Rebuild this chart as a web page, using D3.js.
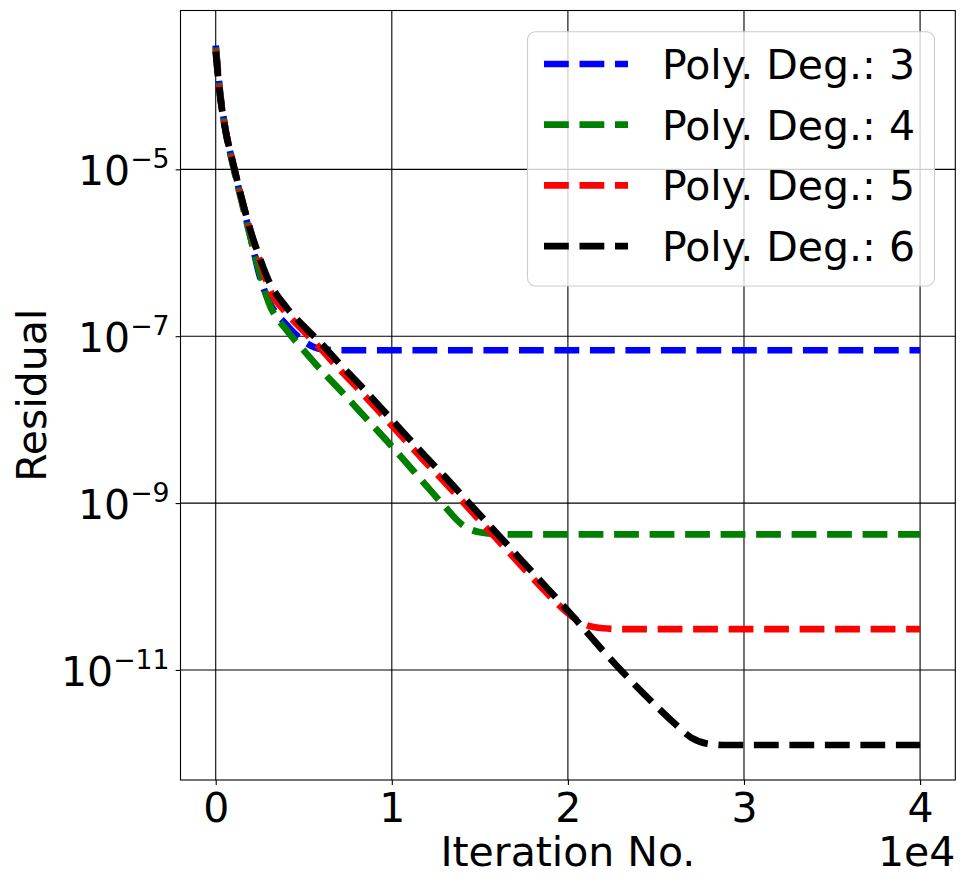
<!DOCTYPE html>
<html lang="en">
<head>
    <meta charset="UTF-8">
    <title>Residual vs iteration</title>
    <style>
        body {
            margin: 0;
            background: #fff;
            font-family: 'DejaVu Sans', sans-serif;
        }
        .tick-label, .axis-title, .legend-text {
            font-size: 41px;
            fill: #000;
        }
    </style>
</head>
<body>
    <div id="chart"></div>

    <script src="https://cdn.jsdelivr.net/npm/d3@7"></script>
    <script>
        const iterations = [0, 250, 500, 1000, 1500, 2000, 2500, 3000, 4000, 5000, 6000, 7000, 8000,
            10000, 12000, 13000, 14000, 15000, 16000, 17000, 18000, 19000, 20000, 21000, 22000,
            23000, 24000, 25000, 26000, 27000, 28000, 29000, 30000, 35000, 40000];

        const deg3 = [3.05e-4, 8.32e-5, 3.55e-5, 1.10e-5, 4.07e-6, 1.48e-6, 5.25e-7, 2.69e-7, 1.38e-7,
            8.71e-8, 7.00e-8, 6.79e-8, 6.79e-8, 6.79e-8, 6.79e-8, 6.79e-8, 6.79e-8, 6.79e-8, 6.79e-8,
            6.79e-8, 6.79e-8, 6.79e-8, 6.79e-8, 6.79e-8, 6.79e-8, 6.79e-8, 6.79e-8, 6.79e-8, 6.79e-8,
            6.79e-8, 6.79e-8, 6.79e-8, 6.79e-8, 6.79e-8, 6.79e-8];

        const deg4 = [2.88e-4, 7.94e-5, 3.39e-5, 1.07e-5, 3.89e-6, 1.45e-6, 5.75e-7, 2.57e-7, 1.20e-7,
            6.76e-8, 3.89e-8, 2.34e-8, 1.38e-8, 4.79e-9, 1.58e-9, 9.12e-10, 5.50e-10, 4.47e-10, 4.25e-10,
            4.22e-10, 4.22e-10, 4.22e-10, 4.22e-10, 4.22e-10, 4.22e-10, 4.22e-10, 4.22e-10, 4.22e-10,
            4.22e-10, 4.22e-10, 4.22e-10, 4.22e-10, 4.22e-10, 4.22e-10, 4.22e-10];

        const deg5 = [2.72e-4, 7.76e-5, 3.47e-5, 1.15e-5, 4.27e-6, 1.74e-6, 8.13e-7, 3.89e-7, 1.91e-7,
            1.15e-7, 6.92e-8, 4.07e-8, 2.45e-8, 8.51e-9, 2.95e-9, 1.78e-9, 1.05e-9, 6.17e-10, 3.63e-10,
            2.14e-10, 1.26e-10, 7.59e-11, 4.79e-11, 3.47e-11, 3.16e-11, 3.09e-11, 3.09e-11, 3.09e-11,
            3.09e-11, 3.09e-11, 3.09e-11, 3.09e-11, 3.09e-11, 3.09e-11, 3.09e-11];

        const deg6 = [2.57e-4, 7.59e-5, 3.39e-5, 1.15e-5, 4.27e-6, 1.78e-6, 8.71e-7, 4.68e-7, 2.24e-7,
            1.32e-7, 8.13e-8, 4.79e-8, 2.88e-8, 1.00e-8, 3.47e-9, 2.09e-9, 1.23e-9, 7.24e-10, 4.27e-10,
            2.51e-10, 1.48e-10, 8.71e-11, 5.13e-11, 2.95e-11, 1.70e-11, 1.00e-11, 6.03e-12, 3.72e-12,
            2.34e-12, 1.55e-12, 1.30e-12, 1.26e-12, 1.26e-12, 1.26e-12, 1.26e-12];

        const seriesNames = ["Poly. Deg.: 3", "Poly. Deg.: 4", "Poly. Deg.: 5", "Poly. Deg.: 6"];
        const seriesColors = ["#0000ff", "#008000", "#ff0000", "#000000"];
        const xTicks = [0, 10000, 20000, 30000, 40000];
        const yTickExps = [-5, -7, -9, -11];

        const W = 964, H = 885;
        const box = {left: 180.5, right: 955.3, top: 10.5, bottom: 780};
        const lineW = 6.7;
        const dash = "24.8,10.7";

        const allSeries = [deg3, deg4, deg5, deg6];

        const svg = d3.select("#chart")
          .append("svg")
            .attr("width", W)
            .attr("height", H);

        // matplotlib style 5% margins
        const x = d3.scaleLinear()
            .domain([-2000, 42000])
            .range([box.left, box.right]);

        const logs = allSeries.flat().map(v => Math.log10(v));
        const lo = d3.min(logs), hi = d3.max(logs);
        const pad = (hi - lo) * 0.05;
        const y = d3.scaleLog()
            .domain([Math.pow(10, lo - pad), Math.pow(10, hi + pad)])
            .range([box.bottom, box.top]);

        // grid
        const grid = svg.append("g");
        grid.selectAll(".gx")
            .data(xTicks)
            .join("line")
            .attr("x1", d => x(d)).attr("x2", d => x(d))
            .attr("y1", box.top).attr("y2", box.bottom)
            .attr("stroke", "#000").attr("stroke-width", 1.1);
        grid.selectAll(".gy")
            .data(yTickExps)
            .join("line")
            .attr("x1", box.left).attr("x2", box.right)
            .attr("y1", d => y(Math.pow(10, d))).attr("y2", d => y(Math.pow(10, d)))
            .attr("stroke", "#000").attr("stroke-width", 1.1);

        // lines
        const line = d3.line()
            .x((d, i) => x(iterations[i]))
            .y(d => y(d))
            .curve(d3.curveMonotoneX);

        svg.append("g")
            .selectAll("path")
            .data(allSeries)
            .join("path")
            .attr("d", line)
            .attr("fill", "none")
            .attr("stroke", (d, i) => seriesColors[i])
            .attr("stroke-width", lineW)
            .attr("stroke-dasharray", dash)
            .attr("stroke-linecap", "butt");

        // axes via d3
        const xAxis = svg.append("g")
            .attr("transform", `translate(0,${box.bottom})`)
            .call(d3.axisBottom(x).tickValues(xTicks).tickSize(4.9).tickPadding(6).tickFormat(d => d / 10000));
        xAxis.select(".domain").remove();
        xAxis.selectAll("line").attr("stroke-width", 1.1);
        xAxis.selectAll("text")
            .attr("class", "tick-label")
            .attr("font-family", "DejaVu Sans")
            .attr("dy", null)
            .attr("y", 41.5);

        const yAxis = svg.append("g")
            .attr("transform", `translate(${box.left},0)`)
            .call(d3.axisLeft(y).tickValues(yTickExps.map(e => Math.pow(10, e))).tickSize(4.9).tickFormat(""));
        yAxis.select(".domain").remove();
        yAxis.selectAll("line").attr("stroke-width", 1.1);
        yAxis.selectAll(".tick").each(function (d) {
            const t = d3.select(this).append("text")
                .attr("class", "tick-label")
                .attr("x", -11)
                .attr("y", 15.5)
                .attr("text-anchor", "end")
                .attr("fill", "#000")
                .attr("font-family", "DejaVu Sans");
            t.append("tspan").text("10");
            t.append("tspan")
                .attr("dy", -17)
                .attr("font-size", "26.7px")
                .text("\u2212" + (-Math.round(Math.log10(d))));
        });

        // frame
        svg.append("rect")
            .attr("x", box.left).attr("y", box.top)
            .attr("width", box.right - box.left)
            .attr("height", box.bottom - box.top)
            .attr("fill", "none")
            .attr("stroke", "#000")
            .attr("stroke-width", 1.1);

        // axis titles
        svg.append("text")
            .attr("class", "axis-title")
            .attr("x", (box.left + box.right) / 2)
            .attr("y", 866)
            .attr("text-anchor", "middle")
            .text("Iteration No.");
        svg.append("text")
            .attr("class", "axis-title")
            .attr("x", box.right)
            .attr("y", 866)
            .attr("text-anchor", "end")
            .text("1e4");
        svg.append("text")
            .attr("class", "axis-title")
            .attr("transform", `translate(46,${(box.top + box.bottom) / 2}) rotate(-90)`)
            .attr("text-anchor", "middle")
            .text("Residual");

        // legend
        const legend = svg.append("g");
        legend.append("rect")
            .attr("x", 527.5).attr("y", 31.7)
            .attr("width", 407).attr("height", 254.3)
            .attr("rx", 8).attr("ry", 8)
            .attr("fill", "#fff").attr("fill-opacity", 0.8)
            .attr("stroke", "#cccccc").attr("stroke-width", 1.1);
        const rows = legend.selectAll(".row")
            .data(seriesNames)
            .join("g")
            .attr("transform", (d, i) => `translate(0,${64 + i * 60.7})`);
        rows.append("line")
            .attr("x1", 544).attr("x2", 628)
            .attr("stroke", (d, i) => seriesColors[i])
            .attr("stroke-width", lineW)
            .attr("stroke-dasharray", dash);
        rows.append("text")
            .attr("class", "legend-text")
            .attr("x", 662)
            .attr("y", 15)
            .text(d => d);
    </script>
</body>
</html>
